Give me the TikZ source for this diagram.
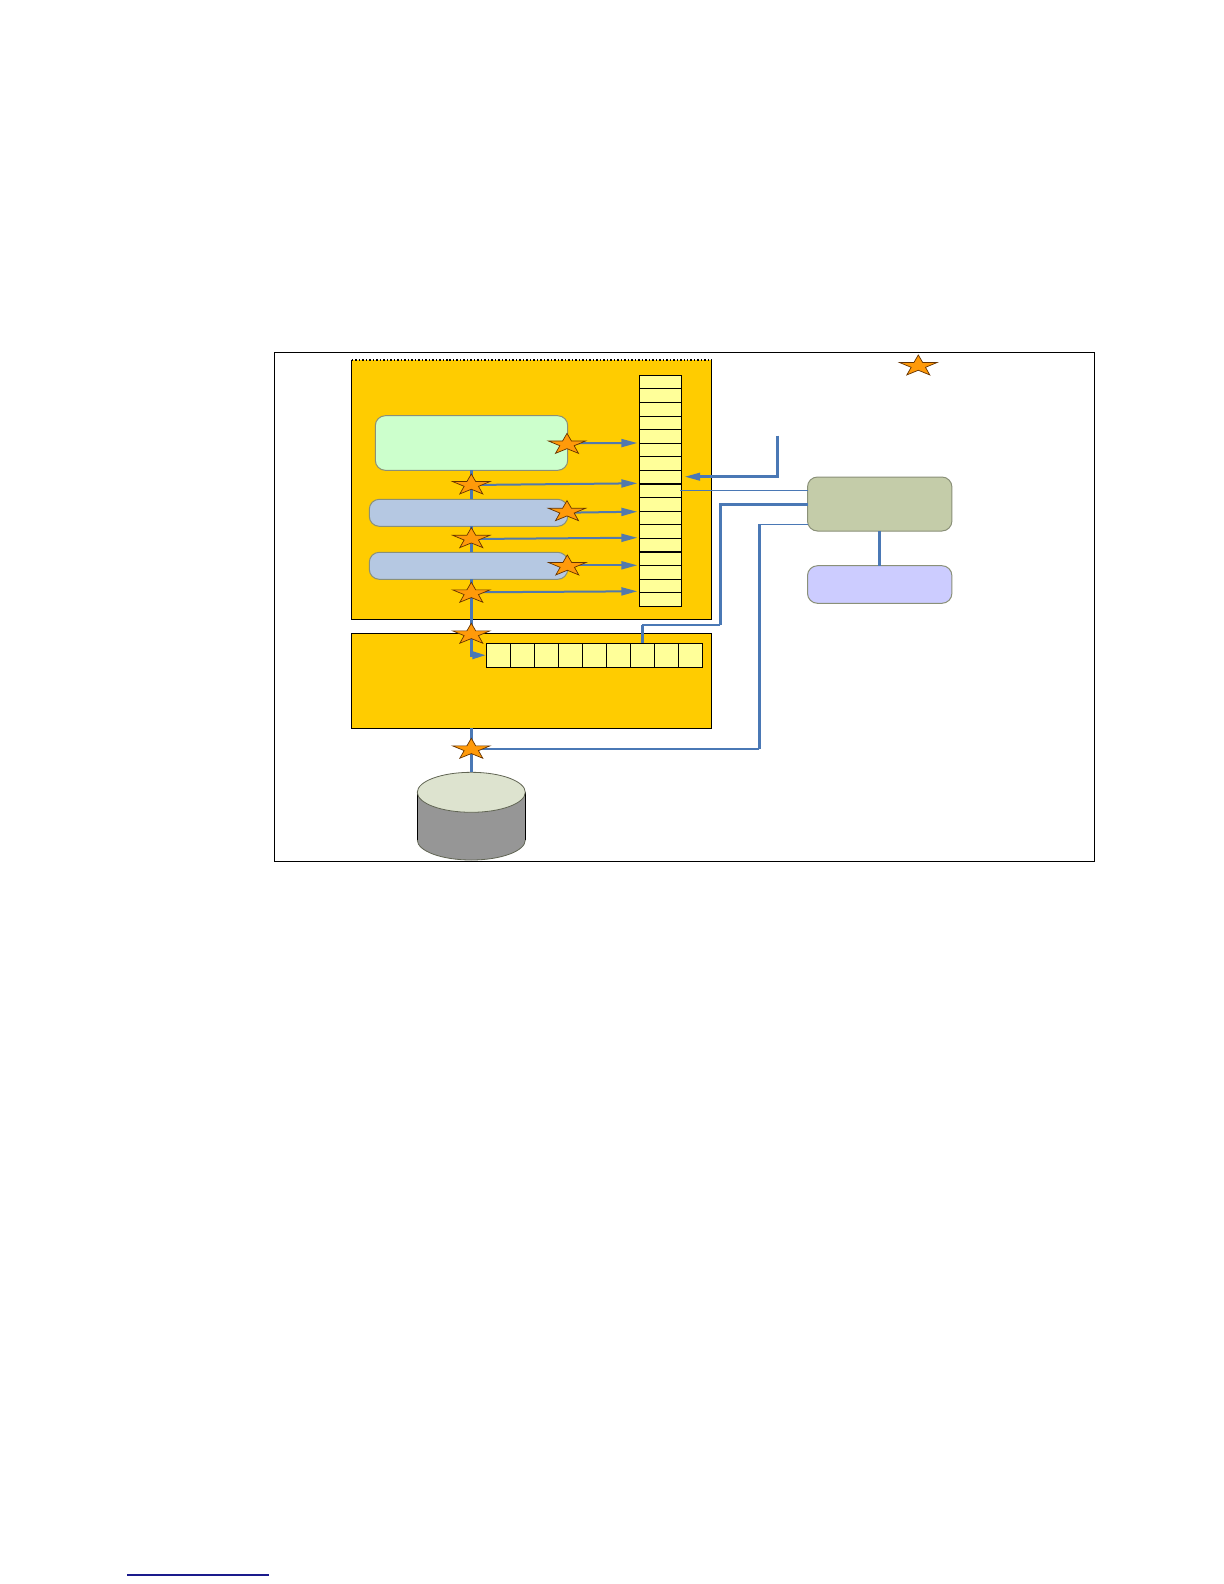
\documentclass[tikz,border=0pt]{standalone}
\usetikzlibrary{shapes.geometric,arrows.meta,calc}
\definecolor{boxorange}{HTML}{FFCC00}
\definecolor{cellyellow}{HTML}{FFFF99}
\definecolor{softgreen}{HTML}{CCFFCC}
\definecolor{softblue}{HTML}{B5C8E2}
\definecolor{softolive}{HTML}{C4CCA9}
\definecolor{softlav}{HTML}{CCCCFF}
\definecolor{starorange}{HTML}{FF9A0A}
\definecolor{wire}{HTML}{4A78B5}
\definecolor{rimgrey}{HTML}{8A9078}
\definecolor{cyltop}{HTML}{DDE3CF}
\definecolor{cylside}{HTML}{969696}
\definecolor{linknavy}{HTML}{1A1A8C}
\tikzset{
  block/.style={draw=black,line width=.75bp,fill=boxorange,anchor=north west,inner sep=0,outer sep=0},
  cellbox/.style={draw=black,line width=.55bp,fill=cellyellow,anchor=north west,inner sep=0,outer sep=0},
  softbox/.style={draw=rimgrey,line width=.5bp,rounded corners=5bp,anchor=north west,inner sep=0,outer sep=0},
  ostar/.style={star,star points=5,star point ratio=2.6,draw=black!60!orange,line width=.35bp,fill=starorange,
     minimum size=11.05bp,inner sep=0,outer sep=0,xscale=1.77,transform shape},
  thick wire/.style={draw=wire,line width=1.5bp},
  thin wire/.style={draw=wire,line width=.8bp},
  flow/.style={draw=wire!85!gray,line width=1bp,-{Triangle[length=8bp,width=4bp]}},
}
\begin{document}
\begin{tikzpicture}[x=.5bp,y=-.5bp]
\useasboundingbox (0,0) rectangle (1224,1584);
\fill[white] (0,0) rectangle (1224,1584);
% outer frame
\node[draw=black,line width=.75bp,anchor=north west,inner sep=0,outer sep=0,minimum width=410bp,minimum height=254.5bp] (frame) at (274.5,352.5) {};
% orange blocks
\node[block,draw=none,minimum width=180bp,minimum height=129.7bp] (upper) at (351.7,360) {};
\draw[line width=.75bp] (upper.north west) -- (upper.south west) -- (upper.south east) -- (upper.north east);
\draw[line width=.75bp,densely dotted] (upper.north west) -- (upper.north east);
\node[block,minimum width=180bp,minimum height=47.5bp] (lower) at (351.7,633.3) {};
% rounded boxes
\node[softbox,fill=softgreen,minimum width=96.2bp,minimum height=27.3bp] (green) at (375.3,415.7) {};
\node[softbox,fill=softblue,minimum width=99.2bp,minimum height=13.5bp] (blueA) at (369.3,499.3) {};
\node[softbox,fill=softblue,minimum width=99.2bp,minimum height=13.5bp] (blueB) at (369.3,552.3) {};
\node[softbox,fill=softolive,minimum width=72.2bp,minimum height=27bp] (olive) at (807.5,477) {};
\node[softbox,fill=softlav,minimum width=72.2bp,minimum height=18.8bp] (lav) at (807.5,565.7) {};
% yellow column
\foreach \i in {0,...,16}{
  \node[cellbox,minimum width=21.2bp,minimum height=6.795bp] (col\i) at (639.3,375.3+13.59*\i) {};
}
% yellow row
\foreach \i in {0,...,8}{
  \node[cellbox,minimum width=12.02bp,minimum height=12bp] (row\i) at (486.3+24.04*\i,643.3) {};
}
% cylinder
\coordinate (cyltopc) at (471.3,772.3);
\fill[cylside] (417.3,792.3) -- (417.3,840) arc[start angle=180,end angle=360,x radius=27bp,y radius=10bp] -- (525.3,792.3) -- cycle;
\draw[line width=.75bp] (417.3,792.3) -- (417.3,840);
\draw[line width=.75bp] (525.3,792.3) -- (525.3,840);
\draw[rimgrey!70!black,line width=.4bp] (417.3,840) arc[start angle=180,end angle=360,x radius=27bp,y radius=10bp];
\draw[rimgrey!70!black,line width=.4bp,fill=cyltop] (471.3,792.3) ellipse[x radius=27bp,y radius=10bp];
% star positions
\coordinate (pa) at (567.0,444.4);
\coordinate (pb) at (471.3,485.0);
\coordinate (pc) at (567.0,511.7);
\coordinate (pd) at (471.3,538.7);
\coordinate (pe) at (567.3,566.0);
\coordinate (pf) at (471.3,593.3);
\coordinate (pg) at (471.3,634.3);
\coordinate (ph) at (471.3,749.3);
\coordinate (pk) at (918.3,366);
% arrow ends at the column
\coordinate (ea) at (637.3,443.0);
\coordinate (eb) at (637.3,483.3);
\coordinate (ec) at (637.3,511.7);
\coordinate (ed) at (637.3,537.7);
\coordinate (ee) at (637.3,565.3);
\coordinate (ef) at (637.3,591.3);
\coordinate (inTop) at (777.3,435.7);
\coordinate (inEnd) at (684,476.7);
% trunk
\draw[thick wire] (green.south -| pb) -- (blueA.north -| pb);
\draw[thick wire] (blueA.south -| pd) -- (blueB.north -| pd);
\draw[thick wire] (blueB.south -| pf) -- (lower.north -| pf);
\coordinate (hook) at (471.3,655.2);
\draw[thick wire,-{Triangle[length=7bp,width=3.6bp]}] (pg) -- (hook) -- (row0.west |- hook);
\draw[thick wire] (lower.south -| ph) -- (cyltopc);
% flows
\draw[flow] (566,443.3) -- (ea);
\draw[flow] (pb |- 0,485) -- (eb);
\draw[flow] (566,512.7) -- (ec);
\draw[flow] (pd |- 0,539) -- (ed);
\draw[flow] (566,565.3) -- (ee);
\draw[flow] (pf |- 0,592.3) -- (ef);
% right side
\draw[thick wire,-{Triangle[length=8bp,width=3.6bp]}] (inTop) -- (inTop |- inEnd) -- (inEnd);
\draw[thin wire] (olive.west |- 0,490.3) -- (680,490.3);
\coordinate (drop) at (720.3,504);
\coordinate (ledge) at (720.3,625);
\coordinate (rise) at (642.3,625);
\draw[thick wire] (olive.west |- drop) -- (drop) -- (ledge);
\draw[draw=wire,line width=1bp] (ledge) -- (rise);
\draw[thick wire] (rise) -- (rise |- row6.north);
\coordinate (farTop) at (759.3,524.3);
\coordinate (farBot) at (759.3,749);
\draw[thin wire] (olive.west |- farTop) -- (farTop);
\draw[thick wire] (farTop) -- (farBot);
\draw[thin wire] (farBot) -- (ph |- farBot);
\draw[thick wire] (olive.south -| 879.3,0) -- (lav.north -| 879.3,0);
% stars
\foreach \p in {a,b,c,d,e,f,g,h,k}{
  \node[ostar] (star\p) at (p\p) {};
}
% footnote rule
\coordinate (ruleL) at (127,1575);
\coordinate (ruleR) at (269,1575);
\draw[linknavy,line width=.75bp] (ruleL) -- (ruleR);
\end{tikzpicture}
\end{document}
